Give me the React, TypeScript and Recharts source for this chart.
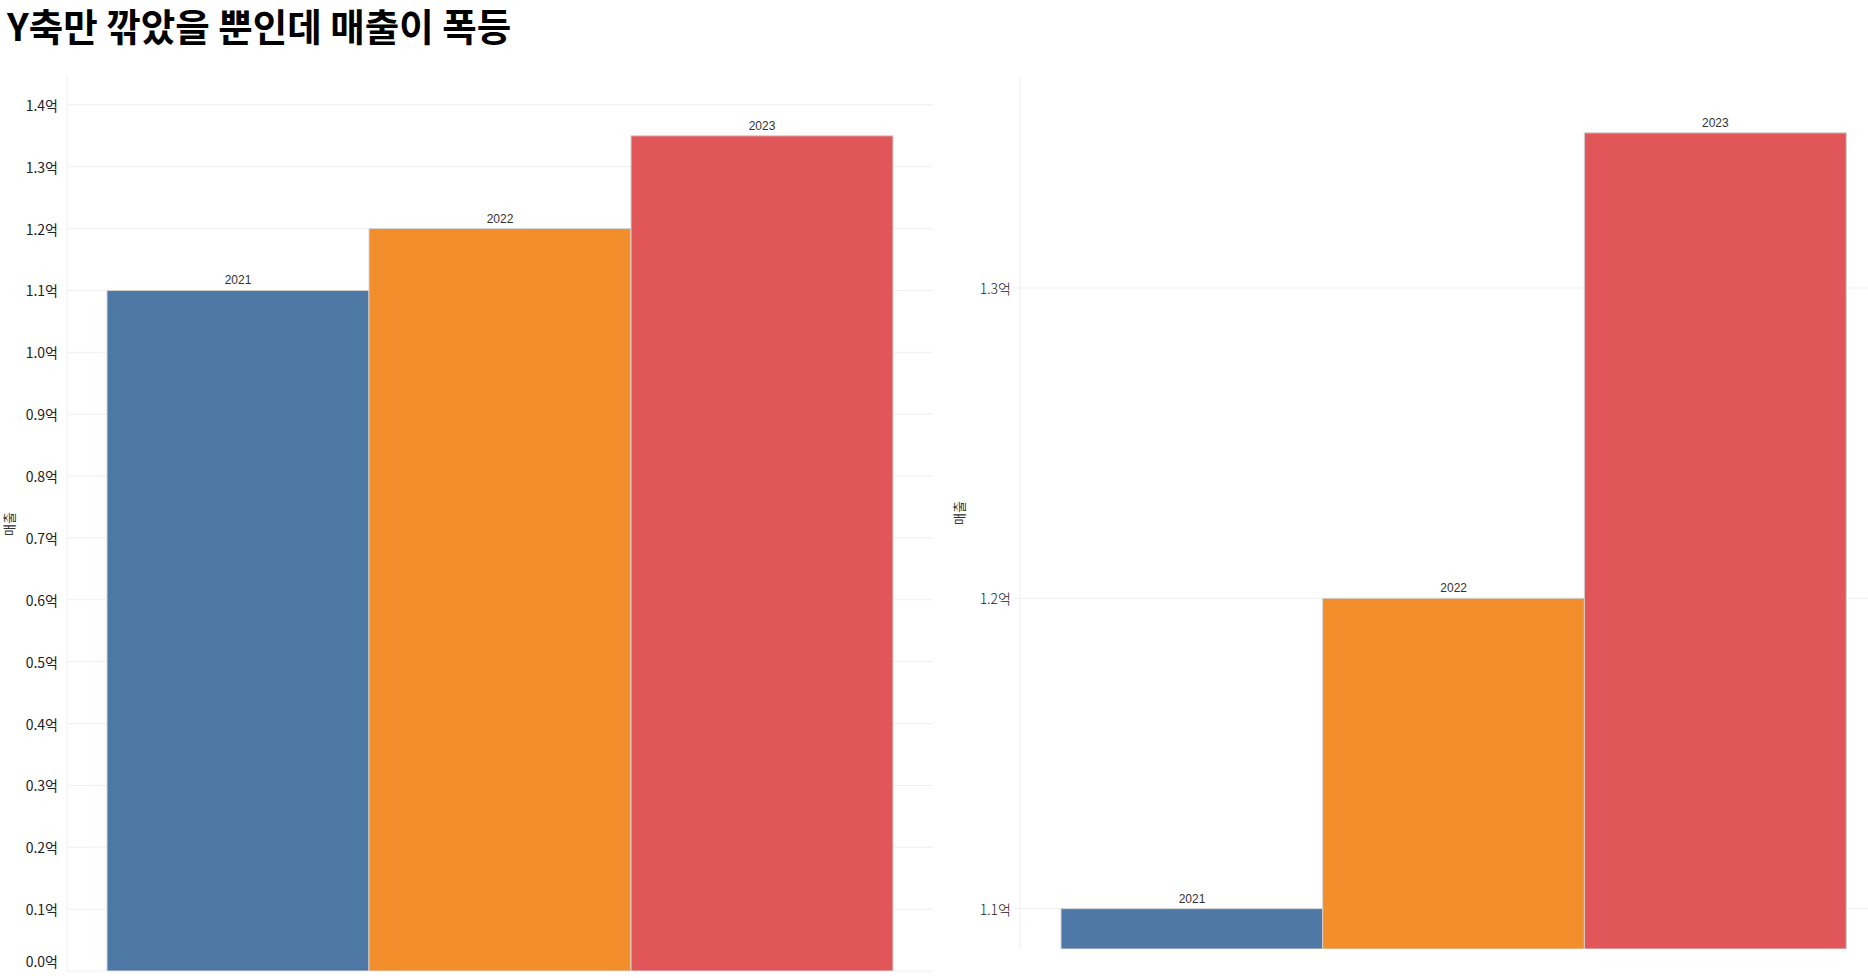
import { BarChart, Bar, XAxis, YAxis, CartesianGrid, Cell, LabelList } from 'recharts';

const years = ['2021', '2022', '2023'];
const sales = [1.1, 1.2, 1.35];
const barColors = ['#4e79a7', '#f28e2b', '#e15759'];
const fullTicks = [0, 0.1, 0.2, 0.3, 0.4, 0.5, 0.6, 0.7, 0.8, 0.9, 1.0, 1.1, 1.2, 1.3, 1.4];
const cutTicks = [1.1, 1.2, 1.3];
const fullDomain = [0, 1.445];
const cutDomain = [1.087, 1.368];

const data = years.map((year, i) => ({ year, sales: sales[i] }));

const FONT = '"Noto Sans CJK KR", "Noto Sans", sans-serif';
const GRID = '#efefef';

// tableau pushes the bottom label up so it stays on screen
const makeTick = (maxY: number, weight: number) => (props: any) => {
  const { x, y, payload } = props;
  return (
    <text
      x={x}
      y={Math.min(y, maxY)}
      textAnchor="end"
      dominantBaseline="central"
      fontSize={14}
      fontFamily={FONT}
      fontWeight={weight}
      fill="#222"
    >
      {Number(payload.value).toFixed(1)}억
    </text>
  );
};

const AxisTitle = (props: any) => {
  const vb = props.viewBox;
  const cx = vb.x + (props.dx ?? 8);
  const cy = vb.y + vb.height / 2;
  return (
    <text
      x={cx}
      y={cy}
      transform={`rotate(-90, ${cx}, ${cy})`}
      textAnchor="middle"
      dominantBaseline="central"
      fontSize={13}
      fontFamily={FONT}
      fill="#333"
    >
      매출
    </text>
  );
};

const Bars = () => (
  <Bar dataKey="sales" isAnimationActive={false} stroke="#d4d4d4" strokeWidth={1}>
    {data.map((d, i) => (
      <Cell key={d.year} fill={barColors[i]} />
    ))}
    <LabelList dataKey="year" position="top" offset={6} fontSize={12} fontFamily={'"Liberation Sans", Arial, sans-serif'} fill="#333" />
  </Bar>
);

export default function App() {
  return (
    <div style={{ position: 'absolute', left: 0, top: 0, width: 1868, height: 978, background: '#fff', overflow: 'hidden' }}>
      <div
        style={{
          position: 'absolute',
          left: 7,
          top: 0,
          fontFamily: FONT,
          fontWeight: 700,
          fontSize: 37.5,
          lineHeight: '50px',
          color: '#000',
          whiteSpace: 'nowrap',
        }}
      >
        Y축만 깎았을 뿐인데 매출이 폭등
      </div>

      <div style={{ position: 'absolute', left: 0, top: 0 }}>
        <BarChart width={940} height={978} data={data} barCategoryGap={0} margin={{ top: 77, right: 7, bottom: 7, left: 0 }}>
          <CartesianGrid vertical={false} stroke={GRID} syncWithTicks />
          <XAxis dataKey="year" hide padding={{ left: 40, right: 40 }} />
          <YAxis
            width={67}
            domain={fullDomain}
            ticks={fullTicks}
            interval={0}
            allowDataOverflow
            axisLine={{ stroke: GRID }}
            tickLine={false}
            tickSize={6}
            tickMargin={3}
            tick={makeTick(961, 400)}
            label={<AxisTitle dx={8} />}
          />
          {Bars()}
        </BarChart>
      </div>

      <div style={{ position: 'absolute', left: 940, top: 0 }}>
        <BarChart width={928} height={978} data={data} barCategoryGap={0} margin={{ top: 77, right: 0, bottom: 29, left: 0 }}>
          <CartesianGrid vertical={false} stroke={GRID} syncWithTicks />
          <XAxis dataKey="year" height={0} tick={false} tickLine={false} axisLine={{ stroke: GRID }} padding={{ left: 41, right: 22 }} />
          <YAxis
            width={80}
            domain={cutDomain}
            ticks={cutTicks}
            interval={0}
            allowDataOverflow
            axisLine={{ stroke: GRID }}
            tickLine={{ stroke: GRID }}
            tickSize={5}
            tickMargin={4}
            tick={makeTick(2000, 300)}
            label={<AxisTitle dx={18} />}
          />
          {Bars()}
        </BarChart>
      </div>
    </div>
  );
}
